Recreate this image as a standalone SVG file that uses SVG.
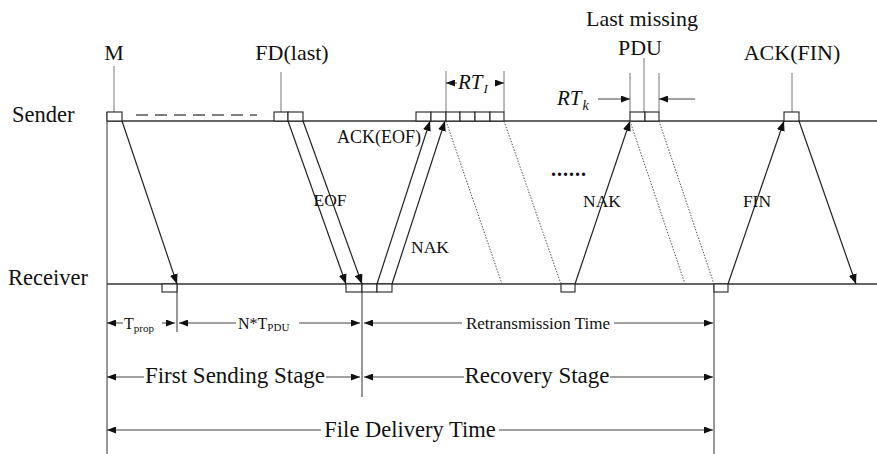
<svg xmlns="http://www.w3.org/2000/svg" width="877" height="454" viewBox="0 0 877 454">
<defs>
<marker id="ah" markerUnits="userSpaceOnUse" markerWidth="11" markerHeight="8" refX="10" refY="4" orient="auto">
<path d="M0,0 L10,4 L0,8 z" fill="#111"/>
</marker>
<marker id="dh" markerUnits="userSpaceOnUse" markerWidth="10" markerHeight="7" refX="9" refY="3.5" orient="auto">
<path d="M0,0 L9,3.5 L0,7 z" fill="#111"/>
</marker>
<style>
.t{font-family:"Liberation Serif","Times New Roman",serif;fill:#111}
.axis{stroke:#333;stroke-width:1.3;fill:none}
.tick{stroke:#777;stroke-width:1;fill:none}
.vl{stroke:#444;stroke-width:1.1;fill:none}
.box{fill:#fff;stroke:#222;stroke-width:1.1}
.msg{stroke:#222;stroke-width:1.2;fill:none;marker-end:url(#ah)}
.dot{stroke:#555;stroke-width:1;stroke-dasharray:1.5,1.5;fill:none}
.dim{stroke:#444;stroke-width:1;fill:none;marker-end:url(#dh)}
</style>
</defs>
<rect width="877" height="454" fill="#fff"/>

<g id="timelines">
<line class="axis" x1="107" y1="121" x2="877" y2="121"/>
<line class="axis" x1="107" y1="284" x2="877" y2="284"/>
<line class="vl" x1="107" y1="112" x2="107" y2="454"/>
<text class="t" x="12" y="122" font-size="22.5">Sender</text>
<text class="t" x="8" y="285" font-size="22.5">Receiver</text>
</g>

<g id="ticks">
<line class="tick" x1="114" y1="66" x2="114" y2="112"/>
<line class="tick" x1="281" y1="72" x2="281" y2="112"/>
<line class="tick" x1="446" y1="71" x2="446" y2="112"/>
<line class="tick" x1="504" y1="71" x2="504" y2="112"/>
<line class="tick" x1="630" y1="73" x2="630" y2="112"/>
<line class="tick" x1="659" y1="73" x2="659" y2="112"/>
<line class="tick" x1="644" y1="58" x2="644" y2="112"/>
<line class="tick" x1="792" y1="73" x2="792" y2="112"/>
<line class="vl" x1="177" y1="284" x2="177" y2="332"/>
<line class="vl" x1="362" y1="284" x2="362" y2="397"/>
<line class="vl" x1="714" y1="284" x2="714" y2="454"/>
</g>

<g id="labels-top">
<text class="t" x="114" y="60" font-size="22" text-anchor="middle">M</text>
<text class="t" x="292" y="60" font-size="22" text-anchor="middle">FD(last)</text>
<text class="t" x="642" y="26" font-size="22" text-anchor="middle">Last missing</text>
<text class="t" x="640" y="55" font-size="22" text-anchor="middle">PDU</text>
<text class="t" x="792" y="60" font-size="22" text-anchor="middle">ACK(FIN)</text>
</g>

<g id="sender-pdus">
<rect class="box" x="107" y="112" width="15" height="9"/>
<rect class="box" x="274" y="112" width="14" height="9"/>
<rect class="box" x="288" y="112" width="15" height="9"/>
<rect class="box" x="416" y="112" width="15" height="9"/>
<rect class="box" x="431" y="112" width="15" height="9"/>
<rect class="box" x="446" y="112" width="14" height="9"/>
<rect class="box" x="460" y="112" width="15" height="9"/>
<rect class="box" x="475" y="112" width="15" height="9"/>
<rect class="box" x="490" y="112" width="14" height="9"/>
<rect class="box" x="630" y="112" width="15" height="9"/>
<rect class="box" x="645" y="112" width="14" height="9"/>
<rect class="box" x="784" y="112" width="15" height="9"/>
</g>

<g id="receiver-pdus">
<rect class="box" x="162" y="284" width="15" height="8"/>
<rect class="box" x="346" y="284" width="16" height="8"/>
<rect class="box" x="362" y="284" width="15" height="8"/>
<rect class="box" x="377" y="284" width="15" height="8"/>
<rect class="box" x="561" y="284" width="14" height="8"/>
<rect class="box" x="714" y="284" width="14" height="8"/>
</g>

<line class="tick" x1="136" y1="115" x2="257" y2="115" style="stroke:#555;stroke-width:1.5;stroke-dasharray:12,7"/>

<g id="connectors">
<line class="msg" x1="122" y1="121" x2="177" y2="284"/>
<line class="msg" x1="288" y1="121" x2="346" y2="284"/>
<line class="msg" x1="303" y1="121" x2="362" y2="284"/>
<line class="msg" x1="377" y1="284" x2="430" y2="121"/>
<line class="msg" x1="392" y1="284" x2="445" y2="121"/>
<line class="dot" x1="446" y1="121" x2="502" y2="284"/>
<line class="dot" x1="504" y1="121" x2="561" y2="284"/>
<line class="msg" x1="575" y1="284" x2="630" y2="121"/>
<line class="dot" x1="630" y1="121" x2="685" y2="284"/>
<line class="dot" x1="659" y1="121" x2="714" y2="284"/>
<line class="msg" x1="728" y1="284" x2="784" y2="121"/>
<line class="msg" x1="799" y1="121" x2="856" y2="284"/>
</g>

<g id="labels-mid">
<text class="t" x="330" y="206" font-size="17.5" text-anchor="middle">EOF</text>
<text class="t" x="337" y="143" font-size="18">ACK(EOF)</text>
<text class="t" x="430" y="253" font-size="17.5" text-anchor="middle">NAK</text>
<text class="t" x="602" y="207" font-size="17.5" text-anchor="middle">NAK</text>
<text class="t" x="757" y="207" font-size="17.5" text-anchor="middle">FIN</text>
<text class="t" x="569" y="176" font-size="20" font-weight="bold" text-anchor="middle" letter-spacing="1" fill="#111">......</text>
</g>

<g id="rt-dims">
<line class="dim" x1="457" y1="83" x2="446" y2="83"/>
<line class="dim" x1="495" y1="83" x2="504" y2="83"/>
<text class="t" x="458" y="89" font-size="21" font-style="italic">RT<tspan font-size="13" dx="1" dy="4">I</tspan></text>
<text class="t" x="557" y="105" font-size="21" font-style="italic">RT<tspan font-size="14" dx="1" dy="5">k</tspan></text>
<line class="dim" x1="598" y1="99" x2="630" y2="99"/>
<line class="dim" x1="695" y1="99" x2="659" y2="99"/>
</g>

<g id="time-dims">
<line class="dim" x1="123" y1="323" x2="107" y2="323"/>
<text class="t" x="124" y="329" font-size="16">T<tspan font-size="11" dy="3">prop</tspan></text>
<line class="dim" x1="162" y1="323" x2="175" y2="323"/>
<line class="dim" x1="236" y1="323" x2="179" y2="323"/>
<text class="t" x="238" y="329" font-size="16">N*T<tspan font-size="11" dy="2">PDU</tspan></text>
<line class="dim" x1="299" y1="323" x2="360" y2="323"/>
<line class="dim" x1="462" y1="323" x2="364" y2="323"/>
<text class="t" x="538" y="329" font-size="17" text-anchor="middle">Retransmission Time</text>
<line class="dim" x1="614" y1="323" x2="713" y2="323"/>

<line class="dim" x1="144" y1="377" x2="107" y2="377"/>
<text class="t" x="235" y="383" font-size="23" text-anchor="middle">First Sending Stage</text>
<line class="dim" x1="326" y1="377" x2="360" y2="377"/>
<line class="dim" x1="464" y1="377" x2="364" y2="377"/>
<text class="t" x="537" y="383" font-size="23" text-anchor="middle">Recovery Stage</text>
<line class="dim" x1="610" y1="377" x2="713" y2="377"/>

<line class="dim" x1="321" y1="430" x2="107" y2="430"/>
<text class="t" x="410" y="437" font-size="22.5" text-anchor="middle">File Delivery Time</text>
<line class="dim" x1="499" y1="430" x2="713" y2="430"/>
</g>
</svg>
